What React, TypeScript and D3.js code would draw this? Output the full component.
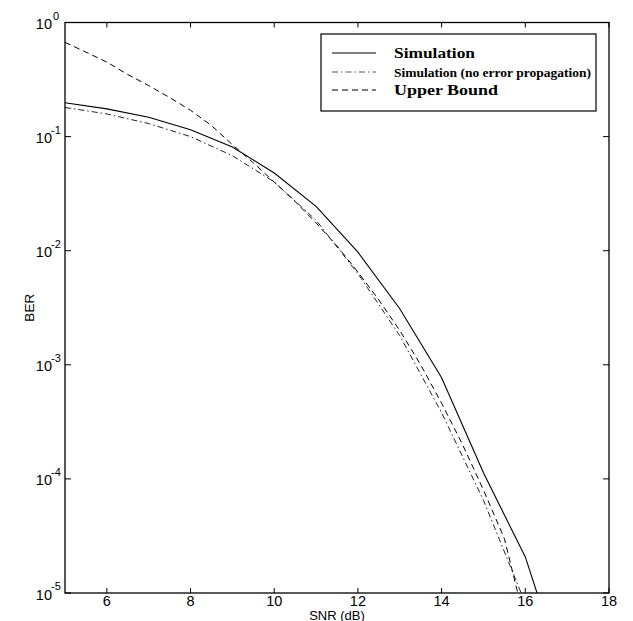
import React from "react";
import * as d3 from "d3";

const snrSim = [5, 6, 7, 8, 9, 10, 11, 12, 13, 14, 15, 16, 16.28];
const berSim = [0.198, 0.175, 0.148, 0.115, 0.081, 0.048, 0.0245, 0.0097, 0.0031, 0.00077, 0.000113, 0.0000207, 0.00001];

const snrNoProp = [5, 6, 7, 8, 9, 10, 11, 12, 13, 14, 15, 15.9];
const berNoProp = [0.18, 0.158, 0.13, 0.1, 0.068, 0.04, 0.0185, 0.0063, 0.0018, 0.00038, 0.000065, 0.00001];

const snrUB = [5, 5.5, 6, 6.5, 7, 7.5, 8, 8.5, 9, 9.5, 10, 10.5, 11, 11.5, 12, 12.5, 13, 13.5, 14, 14.5, 15, 15.5, 15.82];
const berUB = [0.67, 0.55, 0.45, 0.35, 0.28, 0.22, 0.17, 0.125, 0.085, 0.059, 0.04, 0.027, 0.0175, 0.011, 0.0065, 0.0037, 0.002, 0.001, 0.00046, 0.0002, 0.00008, 0.00003, 0.00001];

const xTicks = [6, 8, 10, 12, 14, 16, 18];
const yExponents = [0, -1, -2, -3, -4, -5];

const legendLabels = ["Simulation", "Simulation (no error propagation)", "Upper Bound"];

const W = 633;
const H = 621;
const L = 65;
const R = 609;
const T = 22.5;
const B = 593;

export default function App() {
  const x = d3.scaleLinear().domain([5, 18]).range([L, R]);
  const y = d3.scaleLog().domain([1e-5, 1]).range([B, T]);
  const line = d3
    .line<[number, number]>()
    .x((d) => x(d[0]))
    .y((d) => y(d[1]));

  const sim = snrSim.map((s, i) => [s, berSim[i]] as [number, number]);
  const noProp = snrNoProp.map((s, i) => [s, berNoProp[i]] as [number, number]);
  const ub = snrUB.map((s, i) => [s, berUB[i]] as [number, number]);

  const axisFont = "'Liberation Sans', Arial, Helvetica, sans-serif";
  const legendFont = "'Liberation Serif', 'Times New Roman', serif";
  const tickLen = 5;

  const legendStyles = [
    { dash: undefined, stroke: "#000", size: 15, len: 81 },
    { dash: "6,3,1.5,3", stroke: "#555", size: 12, len: 197 },
    { dash: "6,4", stroke: "#000", size: 15, len: 104 },
  ];
  const legendRows = [53, 72, 90];

  return (
    <svg
      width={W}
      height={H}
      style={{ position: "absolute", left: 0, top: 0, background: "#fff" }}
    >
      <rect x={0} y={0} width={W} height={H} fill="#fff" />
      <defs>
        <clipPath id="plotclip">
          <rect x={L} y={T} width={R - L} height={B - T} />
        </clipPath>
      </defs>

      {/* curves */}
      <g clipPath="url(#plotclip)" fill="none">
        <path d={line(ub) || ""} stroke="#000" strokeWidth={1} strokeDasharray="6,4" />
        <path d={line(noProp) || ""} stroke="#222" strokeWidth={1} strokeDasharray="6,3,1.5,3" />
        <path d={line(sim) || ""} stroke="#000" strokeWidth={1.1} />
      </g>

      {/* frame */}
      <rect x={L} y={T} width={R - L} height={B - T} fill="none" stroke="#000" strokeWidth={1.3} />

      {/* x ticks */}
      {xTicks.map((t) => (
        <g key={"xt" + t}>
          <line x1={x(t)} x2={x(t)} y1={B} y2={B - tickLen} stroke="#000" strokeWidth={1} />
          <line x1={x(t)} x2={x(t)} y1={T} y2={T + tickLen} stroke="#000" strokeWidth={1} />
          <text
            x={x(t)}
            y={606}
            textAnchor="middle"
            fontFamily={axisFont}
            fontSize={14.5}
            fill="#000"
          >
            {t}
          </text>
        </g>
      ))}

      {/* y ticks */}
      {yExponents.map((e) => {
        const yy = y(Math.pow(10, e));
        return (
          <g key={"yt" + e}>
            <line x1={L} x2={L + tickLen + 1} y1={yy} y2={yy} stroke="#000" strokeWidth={1} />
            <line x1={R} x2={R - tickLen - 1} y1={yy} y2={yy} stroke="#000" strokeWidth={1} />
            <text
              x={52}
              y={yy + 6.5}
              textAnchor="end"
              fontFamily={axisFont}
              fontSize={14.5}
              fill="#000"
            >
              10
            </text>
            <text
              x={e === 0 ? 53 : 51}
              y={yy - 3}
              textAnchor="start"
              fontFamily={axisFont}
              fontSize={11}
              fill="#000"
            >
              {e === 0 ? "0" : "-" + String(Math.abs(e))}
            </text>
          </g>
        );
      })}

      {/* axis labels */}
      <text
        x={337}
        y={619.5}
        textAnchor="middle"
        fontFamily={axisFont}
        fontSize={13}
        fill="#000"
      >
        SNR (dB)
      </text>
      <text
        transform={`translate(34, ${(T + B) / 2}) rotate(-90)`}
        textAnchor="middle"
        fontFamily={axisFont}
        fontSize={13.5}
        fill="#000"
      >
        BER
      </text>

      {/* legend */}
      <rect x={321} y={34} width={275} height={77} fill="#fff" stroke="#000" strokeWidth={1.2} />
      {legendLabels.map((lab, i) => {
        const st = legendStyles[i];
        const ry = legendRows[i];
        return (
          <g key={"lg" + i}>
            <line
              x1={332}
              x2={376}
              y1={ry}
              y2={ry}
              stroke={st.stroke}
              strokeWidth={1}
              strokeDasharray={st.dash}
            />
            <text
              x={394}
              y={ry + 5}
              fontFamily={legendFont}
              fontWeight="bold"
              fontSize={st.size}
              textLength={st.len}
              lengthAdjust="spacingAndGlyphs"
              fill="#000"
            >
              {lab}
            </text>
          </g>
        );
      })}
    </svg>
  );
}
